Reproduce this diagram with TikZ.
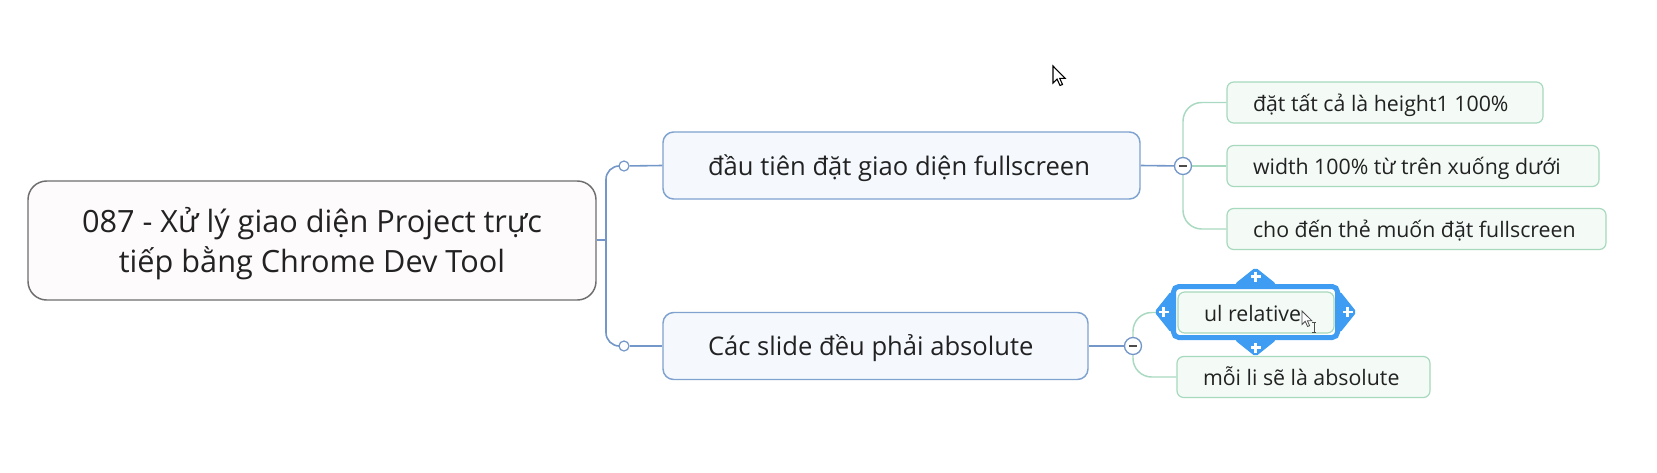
\documentclass[tikz,border=0pt]{standalone}
\usepackage{fontspec}
\setmainfont{Open Sans}
\usetikzlibrary{shapes.geometric}
\newdimen\pxu \pxu=0.75pt
\newcommand{\lefttext}[2]{\makebox[#1\pxu][l]{#2}}
\definecolor{txt}{HTML}{222222}
\definecolor{rootline}{HTML}{6E6E6E}
\definecolor{rootfill}{HTML}{FEFBFD}
\definecolor{brline}{HTML}{7FA2CF}
\definecolor{brfill}{HTML}{F5F9FE}
\definecolor{bconn}{HTML}{7497C9}
\definecolor{lfline}{HTML}{A7D9BE}
\definecolor{lffill}{HTML}{F4FBF7}
\definecolor{gconn}{HTML}{A9D9C1}
\definecolor{selblue}{HTML}{3E9CF2}
\pgfdeclarelayer{bgfill}
\pgfdeclarelayer{conn}
\pgfdeclarelayer{hdl}
\pgfsetlayers{bgfill,conn,hdl,main}
\begin{document}
\begin{tikzpicture}[x=0.75pt,y=-0.75pt,
  rootbox/.style={draw=rootline, fill=rootfill, line width=1.1pt, rounded corners=14pt,
    minimum width=568\pxu, minimum height=119\pxu, inner sep=0pt,
    text=txt, font=\fontsize{23}{30.5}\selectfont},
  branchbox/.style={draw=brline, fill=brfill, line width=1.1pt, rounded corners=8pt,
    minimum height=67\pxu, inner xsep=45\pxu, inner ysep=0pt,
    text height=24\pxu, text depth=5\pxu,
    text=txt, font=\fontsize{19.2}{24}\selectfont},
  leafbox/.style={draw=lfline, fill=lffill, line width=0.9pt, rounded corners=5pt,
    minimum height=41\pxu, inner xsep=26\pxu, inner ysep=0pt,
    text height=21\pxu, text depth=4\pxu,
    text=txt, font=\fontsize{16}{20}\selectfont},
  bconnline/.style={draw=bconn, line width=1.2pt},
  gconnline/.style={draw=gconn, line width=1.1pt},
  dotnode/.style={circle, draw=bconn, fill=white, line width=0.9pt, minimum size=10\pxu, inner sep=0pt},
  collapse/.style={circle, draw=bconn, fill=white, line width=1pt, minimum size=17\pxu, inner sep=0pt,
    path picture={\draw[line width=1.4pt, black!70]
      ([xshift=-4\pxu]path picture bounding box.center) -- ([xshift=4\pxu]path picture bounding box.center);}},
  selframe/.style={draw=selblue, line width=3.75pt, fill=white, rounded corners=4pt, inner sep=0pt},
  handle/.style={diamond, fill=selblue, draw=selblue, line width=1pt, rounded corners=1.5pt,
    minimum width=40\pxu, minimum height=32\pxu, inner sep=0pt},
  plusmark/.style={draw=white, line width=2pt},
  cursorline/.style={line width=0.8pt, line join=miter, fill=white}
]
\useasboundingbox (0,0) rectangle (1657,472);
\begin{pgfonlayer}{bgfill}
\fill[white] (0,0) rectangle (1657,472);
\end{pgfonlayer}

% nodes
\node[rootbox] (root) at (312,240.5) {\raisebox{0pt}[28\pxu][45\pxu]{\begin{tabular}[t]{@{}c@{}}087 - Xử lý giao diện Project trực\\tiếp bằng Chrome Dev Tool\end{tabular}}};
\node[branchbox] (b1) at (901.5,165.5) {\lefttext{387}{đầu tiên đặt giao diện fullscreen}};
\node[branchbox] (b2) at (875.5,346) {\lefttext{335}{Các slide đều phải absolute}};
\node[dotnode] (d1) at (624,166) {};
\node[dotnode] (d2) at (624,346) {};
\node[collapse] (c1) at (1183,166) {};
\node[collapse] (c2) at (1133,346) {};
\node[leafbox] (l1) at (1385,102.5) {\lefttext{264}{đặt tất cả là height1 100\%}};
\node[leafbox] (l2) at (1413,166) {\lefttext{320}{width 100\% từ trên xuống dưới}};
\node[leafbox] (l3) at (1416.5,229) {\lefttext{327}{cho đến thẻ muốn đặt fullscreen}};
\node[leafbox] (l5) at (1303.5,377) {\lefttext{201}{mỗi li sẽ là absolute}};
\node[selframe, minimum width=164\pxu, minimum height=51\pxu] (sel) at (1255.5,312) {};
\node[leafbox] (ul) at (1256,312.5) {\lefttext{104}{ul relative}};

% selection handles
\begin{pgfonlayer}{hdl}
\node[handle] (ht) at (sel.north) {};
\node[handle] (hb) at (sel.south) {};
\node[handle, minimum width=32\pxu, minimum height=40\pxu] (hl) at (sel.west) {};
\node[handle, minimum width=32\pxu, minimum height=40\pxu] (hr) at (sel.east) {};
\end{pgfonlayer}
\draw[plusmark] ([yshift=7.5\pxu]sel.north) +(-5,0) -- +(5,0) +(0,-5) -- +(0,5);
\draw[plusmark] ([yshift=-7.5\pxu]sel.south) +(-5,0) -- +(5,0) +(0,-5) -- +(0,5);
\draw[plusmark] ([xshift=-7.5\pxu]sel.west) +(-5,0) -- +(5,0) +(0,-5) -- +(0,5);
\draw[plusmark] ([xshift=7.5\pxu]sel.east) +(-5,0) -- +(5,0) +(0,-5) -- +(0,5);

% connectors
\begin{pgfonlayer}{conn}
\coordinate (j) at (606,240);
\coordinate (s1) at (606,166);
\coordinate (s2) at (606,346);
\draw[bconnline] (root.east |- j) -- (j);
\draw[bconnline, rounded corners=10pt] (d1.center) -- (s1) -- (s2) -- (d2.center);
\draw[bconnline] (d1) -- (b1.west);
\draw[bconnline] (d2) -- (b2.west);
\draw[bconnline] (b1.east) -- (c1);
\draw[bconnline] (b2.east) -- (c2);
\coordinate (g1t) at (1183,102.5);
\coordinate (g1b) at (1183,229);
\draw[gconnline, rounded corners=14pt] (l1.west) -- (g1t) -- (g1b) -- (l3.west);
\draw[gconnline] (c1) -- (l2.west);
\coordinate (g2t) at (1133,312.5);
\coordinate (g2b) at (1133,377);
\draw[gconnline, rounded corners=14pt] (ul.west) -- (g2t) -- (g2b) -- (l5.west);
\end{pgfonlayer}

% mouse cursors
\draw[cursorline, draw=black] (1053,66) -- ++(0,17) -- ++(4,-4) -- ++(3,6.5) -- ++(2.5,-1) -- ++(-2.8,-6.2) -- ++(5.5,0) -- cycle;
\draw[cursorline, draw=gray!60!black, line width=0.6pt] (1302,311) -- ++(0,13.5) -- ++(3.2,-3.2) -- ++(2.4,5.2) -- ++(2,-0.8) -- ++(-2.2,-5) -- ++(4.4,0) -- cycle;
\draw[gray!60!black, line width=0.6pt] (1314,322) -- (1314,332) (1312,322) -- (1316,322) (1312,332) -- (1316,332);
\end{tikzpicture}
\end{document}
